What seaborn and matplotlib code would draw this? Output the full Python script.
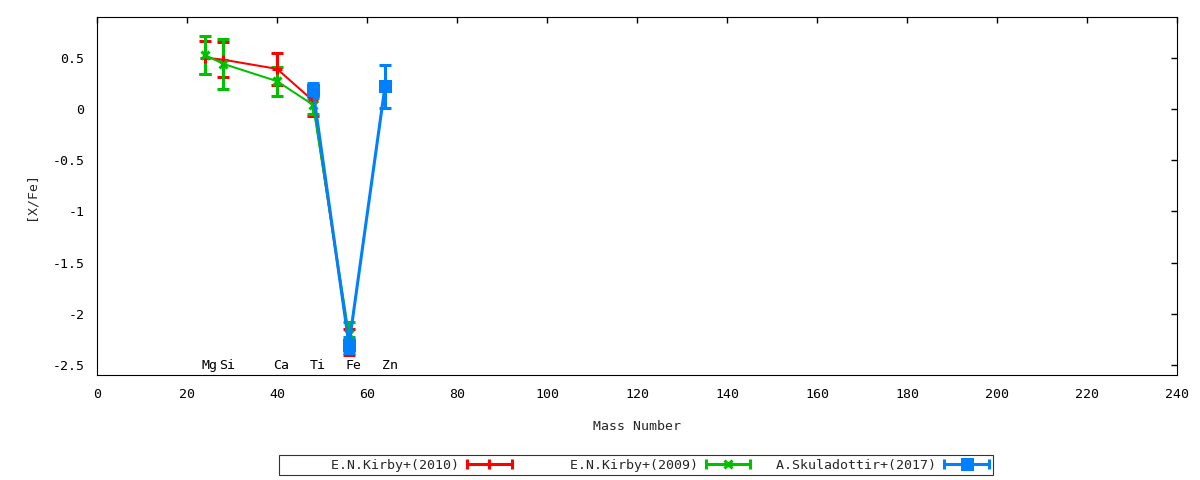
import numpy as np
import matplotlib
matplotlib.use("Agg")
import matplotlib.pyplot as plt
import seaborn as sns
import pandas as pd
from matplotlib.lines import Line2D
from matplotlib.legend_handler import HandlerBase

# Data
elements = ["Mg", "Si", "Ca", "Ti", "Fe", "Zn"]
mass_numbers = [24, 28, 40, 48, 56, 64]

kirby2010_mass = [24, 28, 40, 48, 56]
kirby2010_val = [0.50, 0.48, 0.39, 0.08, -2.275]
kirby2010_err = [0.16, 0.17, 0.155, 0.15, 0.125]

kirby2009_mass = [24, 28, 40, 48, 56]
kirby2009_val = [0.525, 0.44, 0.27, 0.04, -2.20]
kirby2009_err = [0.185, 0.245, 0.14, 0.09, 0.12]

skul2017_mass = [48, 56, 64]
skul2017_val = [0.18, -2.30, 0.22]
skul2017_err = [0.07, 0.08, 0.21]

labels = ["      E.N.Kirby+(2010)", "      E.N.Kirby+(2009)", "  A.Skuladottir+(2017)"]
colors = ["#ff0000", "#00c000", "#0080ff"]
markers = ["+", "x", "s"]

sns.set_style("white")
plt.rcParams["font.family"] = ["DejaVu Sans Mono", "DejaVu Sans"]
plt.rcParams["axes.unicode_minus"] = False
fs = 9.5

fig = plt.figure(figsize=(12, 4.8), dpi=100)
ax = fig.add_axes([97 / 1200, 1 - 375 / 480, (1177 - 97) / 1200, (375 - 17.3) / 480])

series = [
    (kirby2010_mass, kirby2010_val, kirby2010_err),
    (kirby2009_mass, kirby2009_val, kirby2009_err),
    (skul2017_mass, skul2017_val, skul2017_err),
]
line_w = [1.45, 1.45, 2.2]
msizes = [7, 6, 7]

for (m, v, e), lab, c, mk, lw, ms in zip(series, labels, colors, markers, line_w, msizes):
    df = pd.DataFrame({"mass": m, "val": v})
    ax.errorbar(m, v, yerr=e, fmt="none", ecolor=c, elinewidth=2.2,
                capsize=4.5, capthick=2.2, zorder=2)
    sns.lineplot(data=df, x="mass", y="val", ax=ax, color=c, lw=lw,
                 marker=mk, markersize=ms, markeredgewidth=2.2,
                 markeredgecolor=c, markerfacecolor=c, zorder=3, legend=False)

for el, m in zip(elements, mass_numbers):
    ax.annotate(el, (m, -2.5), xytext=(-2.5, 0), textcoords="offset points",
                ha="left", va="center", fontsize=fs, color="black")

ax.set_xlim(0, 240)
ax.set_ylim(-2.595, 0.893)
ax.set_xticks(np.arange(0, 241, 20))
ax.set_yticks([0.5, 0, -0.5, -1, -1.5, -2, -2.5])
ax.set_yticklabels(["0.5", "0", "-0.5", "-1", "-1.5", "-2", "-2.5"])
ax.tick_params(direction="in", length=4, width=1, top=True, right=True,
               labelsize=fs, colors="black")
ax.tick_params(axis="x", pad=9)
ax.tick_params(axis="y", pad=9)
for s in ax.spines.values():
    s.set_color("black")
    s.set_linewidth(0.8)
    s.set_visible(True)
ax.set_xlabel("Mass Number", fontsize=fs, labelpad=14)
ax.set_ylabel("[X/Fe]", fontsize=fs, labelpad=11)
ax.grid(False)


class SampleHandler(HandlerBase):
    # gnuplot-like key sample: horizontal bar with end caps and a point in the middle
    def __init__(self, color, marker, ms):
        super().__init__()
        self.color, self.marker, self.ms = color, marker, ms

    def create_artists(self, legend, orig_handle, xdescent, ydescent, width,
                       height, fontsize, trans):
        y = height / 2 - ydescent
        x0, x1 = -xdescent, width - xdescent
        bar = Line2D([x0, x1], [y, y], color=self.color, lw=2.2, transform=trans)
        caps = Line2D([x0, x1], [y, y], ls="none", marker="|", markersize=7,
                      markeredgewidth=2.2, color=self.color, transform=trans)
        pt = Line2D([(x0 + x1) / 2], [y], ls="none", marker=self.marker,
                    markersize=self.ms, markeredgewidth=2.2, color=self.color,
                    markerfacecolor=self.color, transform=trans)
        return [bar, caps, pt]


handles = [Line2D([], [], color=c) for c in colors]
hmap = {h: SampleHandler(c, mk, ms) for h, c, mk, ms in zip(handles, colors, markers, msizes)}
leg = fig.legend(handles, labels, loc="center", bbox_to_anchor=(636 / 1200, 1 - 465 / 480),
                 ncol=3, markerfirst=False, handler_map=hmap, fontsize=fs,
                 handlelength=3.4, handletextpad=0.6, columnspacing=0.75,
                 borderpad=0.3, frameon=True, fancybox=False)
leg.get_frame().set_edgecolor("black")
leg.get_frame().set_linewidth(0.8)

fig.savefig("out.png", dpi=100)
